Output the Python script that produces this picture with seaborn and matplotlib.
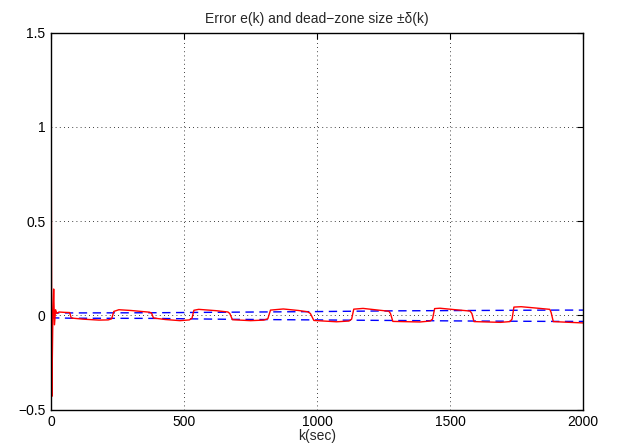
import numpy as np
import pandas as pd
import matplotlib
matplotlib.use("Agg")
import matplotlib.pyplot as plt
import seaborn as sns

# error e(k)
k_err = [0, 3, 7, 10, 13, 17, 22, 30, 50, 70, 76,
         120, 180, 215, 228, 236, 255, 300, 370, 378, 385,
         430, 485, 520, 530, 537, 555, 620, 665, 672, 682,
         750, 800, 815, 825, 873, 930, 965, 975, 988,
         1074, 1120, 1130, 1138, 1173, 1230, 1270, 1276, 1285,
         1387, 1425, 1434, 1442, 1462, 1520, 1575, 1582, 1590,
         1690, 1725, 1733, 1740, 1767, 1830, 1875, 1880, 1888,
         1950, 2000]
e_vals = [1.5, -0.43, 0.0, 0.14, -0.05, 0.03, 0.01, 0.018, 0.016, 0.015, -0.014,
          -0.02, -0.025, -0.024, -0.018, 0.021, 0.03, 0.026, 0.017, 0.012, -0.014,
          -0.022, -0.028, -0.024, -0.015, 0.027, 0.032, 0.025, 0.018, 0.01, -0.023,
          -0.028, -0.025, -0.018, 0.028, 0.034, 0.026, 0.019, 0.01, -0.027,
          -0.034, -0.03, -0.02, 0.033, 0.037, 0.028, 0.022, 0.01, -0.032,
          -0.035, -0.03, -0.02, 0.036, 0.038, 0.03, 0.023, 0.01, -0.033,
          -0.037, -0.033, -0.02, 0.044, 0.046, 0.038, 0.032, 0.015, -0.033,
          -0.037, -0.04]

# dead-zone size +/- delta(k)
k_delta = [0, 75, 385, 679, 986, 1281, 1588, 1886, 2000]
delta_up = [0.013, 0.013, 0.014, 0.017, 0.02, 0.024, 0.026, 0.028, 0.028]
delta_lo = [-0.013, -0.015, -0.016, -0.021, -0.024, -0.027, -0.03, -0.032, -0.032]

xticks = [0, 500, 1000, 1500, 2000]
yticks = [-0.5, 0, 0.5, 1, 1.5]

sns.set_style("white")
plt.rcParams['font.family'] = ['Liberation Sans', 'DejaVu Sans']
plt.rcParams['axes.unicode_minus'] = True

fig = plt.figure(figsize=(6.17, 4.48), dpi=100)
ax = fig.add_axes([0.0827, 0.0857, 0.8623, 0.8413])

df_d = pd.DataFrame({'k': k_delta, 'up': delta_up, 'lo': delta_lo})
sns.lineplot(x='k', y='up', data=df_d, ax=ax, color='#0000ff', lw=1, dashes=False)
sns.lineplot(x='k', y='lo', data=df_d, ax=ax, color='#0000ff', lw=1, dashes=False)
for ln in ax.lines:
    ln.set_dashes([6, 4])

df_e = pd.DataFrame({'k': k_err, 'e': e_vals})
sns.lineplot(x='k', y='e', data=df_e, ax=ax, color='#ff0000', lw=1, sort=False)

ax.set_xlim(0, 2000)
ax.set_ylim(-0.5, 1.5)
ax.set_xticks(xticks)
ax.set_yticks(yticks)
ax.set_xticklabels([str(t) for t in xticks])
ax.set_yticklabels(['\u22120.5', '0', '0.5', '1', '1.5'])
ax.grid(True, color='black', linestyle=(0, (1, 4)), lw=0.6)
ax.tick_params(direction='in', length=4, top=True, right=True, labelsize=10, pad=4, colors='black')
for s in ax.spines.values():
    s.set_color('black')
    s.set_linewidth(1)
ax.set_title('Error e(k) and dead\u2212zone size \u00b1\u03b4(k)', fontsize=10, pad=7)
ax.set_xlabel('k(sec)', fontsize=10, labelpad=0)
ax.set_ylabel('')

fig.savefig('out.png', dpi=100)
